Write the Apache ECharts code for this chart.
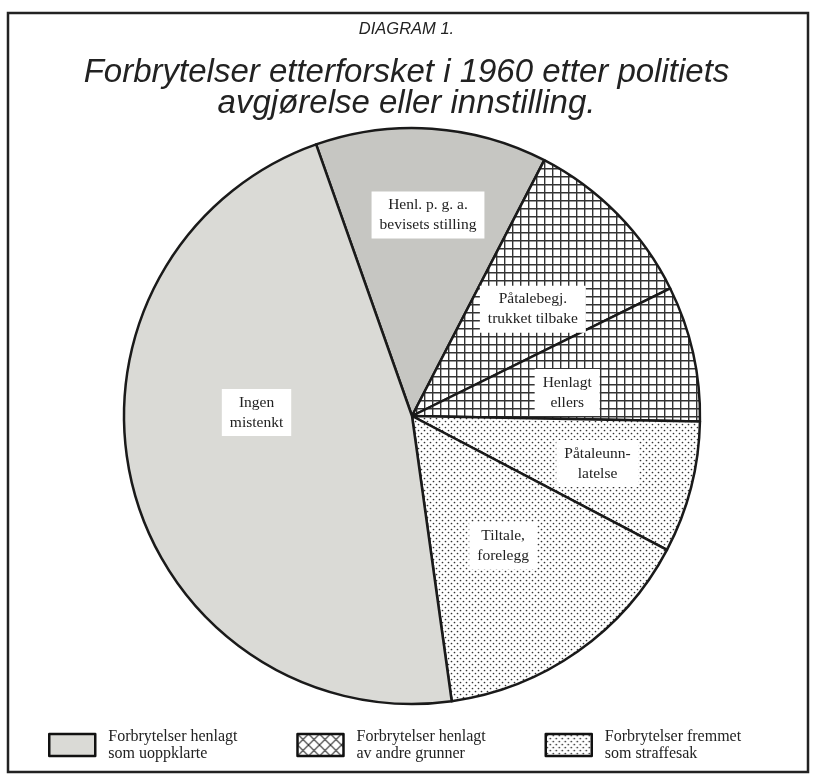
<!DOCTYPE html>
<html>
<head>
<meta charset="utf-8">
<script src="https://cdn.jsdelivr.net/npm/echarts@6/dist/echarts.min.js"></script>
<style>
html,body{margin:0;padding:0;background:#fff;}
#chart{width:813px;height:777px;}
</style>
</head>
<body>
<div id="chart"></div>
<script>
// ---- data ----
const categories = ['Henl. p. g. a.\nbevisets stilling', 'Påtalebegj.\ntrukket tilbake', 'Henlagt\nellers', 'Påtaleunn-\nlatelse', 'Tiltale,\nforelegg', 'Ingen\nmistenkt'];
const values = [13.0, 10.1, 7.6, 7.4, 15.1, 46.8];
const groupOf = [0, 1, 1, 2, 2, 0];
const groups = ['Forbrytelser henlagt\nsom uoppklarte', 'Forbrytelser henlagt\nav andre grunner', 'Forbrytelser fremmet\nsom straffesak'];

// ---- styles ----
const CX = 412, CY = 416, R = 288;
const START_DEG = -19.45;
const labelDist = [0.70, 0.56, 0.545, 0.665, 0.55, 0.54];
const labelShift = [0.6, 3, 4, 0, 0, 15];

function makeTile(w, h, draw) {
  const c = document.createElement('canvas');
  c.width = w; c.height = h;
  const ctx = c.getContext('2d');
  ctx.fillStyle = '#fff'; ctx.fillRect(0, 0, w, h);
  draw(ctx);
  return c;
}
const crossTile = makeTile(8, 8, ctx => {
  ctx.strokeStyle = '#333'; ctx.lineWidth = 1.4;
  ctx.beginPath(); ctx.moveTo(0.7, 0); ctx.lineTo(0.7, 8); ctx.moveTo(0, 0.7); ctx.lineTo(8, 0.7); ctx.stroke();
});
const diagTile = makeTile(11, 11, ctx => {
  ctx.strokeStyle = '#333'; ctx.lineWidth = 1.2;
  ctx.beginPath();
  ctx.moveTo(0, 0); ctx.lineTo(11, 11);
  ctx.moveTo(11, 0); ctx.lineTo(0, 11);
  ctx.stroke();
});
const dotTile = makeTile(6, 6, ctx => {
  ctx.fillStyle = '#333';
  ctx.beginPath(); ctx.arc(1.5, 1.5, 0.85, 0, Math.PI * 2); ctx.fill();
  ctx.beginPath(); ctx.arc(4.5, 4.5, 0.85, 0, Math.PI * 2); ctx.fill();
});
const cross = { image: crossTile, repeat: 'repeat' };
const diag = { image: diagTile, repeat: 'repeat' };
const dots = { image: dotTile, repeat: 'repeat' };
const sliceFill = ['#c6c6c2', cross, cross, dots, dots, '#dadad6'];
const groupFill = ['#dadad6', diag, dots];

const total = values.reduce((a, b) => a + b, 0);
const groupValues = groups.map((g, gi) => values.reduce((s, v, i) => s + (groupOf[i] === gi ? v : 0), 0));

const chart = echarts.init(document.getElementById('chart'));
chart.setOption({
  backgroundColor: '#fff',
  animation: false,
  title: [
    { text: 'DIAGRAM 1.', left: 'center', top: 16,
      textStyle: { fontFamily: 'Liberation Sans', fontStyle: 'italic', fontWeight: 'normal', fontSize: 16.5, color: '#222' } },
    { text: 'Forbrytelser etterforsket i 1960 etter politiets\navgjørelse eller innstilling.', left: 'center', top: 52,
      textStyle: { fontFamily: 'Liberation Sans', fontStyle: 'italic', fontWeight: 'normal', fontSize: 33, lineHeight: 31, color: '#222' } }
  ],
  legend: {
    data: groups,
    left: 43, top: 721,
    orient: 'horizontal',
    icon: 'rect',
    itemWidth: 46, itemHeight: 22, itemGap: 7,
    selectedMode: false,
    itemStyle: { borderColor: '#111', borderWidth: 2.5 },
    textStyle: { fontFamily: 'Liberation Serif', fontSize: 16, lineHeight: 17, color: '#222', width: 181, padding: [4, 0, 0, 8] }
  },
  graphic: [{
    type: 'rect', silent: true,
    shape: { x: 8, y: 13, width: 800, height: 759 },
    style: { fill: 'none', stroke: '#222', lineWidth: 2.5 }
  }],
  series: [
    {
      type: 'pie', name: 'groups', silent: true,
      center: [CX, CY], radius: [0, 1], z: 1,
      label: { show: false }, labelLine: { show: false },
      data: groups.map((g, i) => ({ name: g, value: groupValues[i], itemStyle: { color: groupFill[i] } }))
    },
    {
      type: 'pie', name: 'main', silent: true,
      center: [CX, CY], radius: [0, R], z: 2,
      startAngle: 90 - START_DEG, clockwise: true,
      itemStyle: { borderColor: '#1a1a1a', borderWidth: 2.5 },
      label: {
        show: true, position: 'inside', formatter: '{b}',
        fontFamily: 'Liberation Serif', fontSize: 15.5, lineHeight: 20, color: '#222',
        backgroundColor: '#fff', padding: [4, 8, 3, 8]
      },
      labelLine: { show: false },
      labelLayout: function (p) {
        const i = p.dataIndex;
        let before = 0;
        for (let j = 0; j < i; j++) before += values[j];
        const mid = START_DEG + (before + values[i] / 2) / total * 360 + labelShift[i];
        const rad = mid * Math.PI / 180;
        return { x: CX + labelDist[i] * R * Math.sin(rad), y: CY - labelDist[i] * R * Math.cos(rad) };
      },
      data: categories.map((c, i) => ({ name: c, value: values[i], itemStyle: { color: sliceFill[i] } }))
    }
  ]
});
</script>
</body>
</html>
